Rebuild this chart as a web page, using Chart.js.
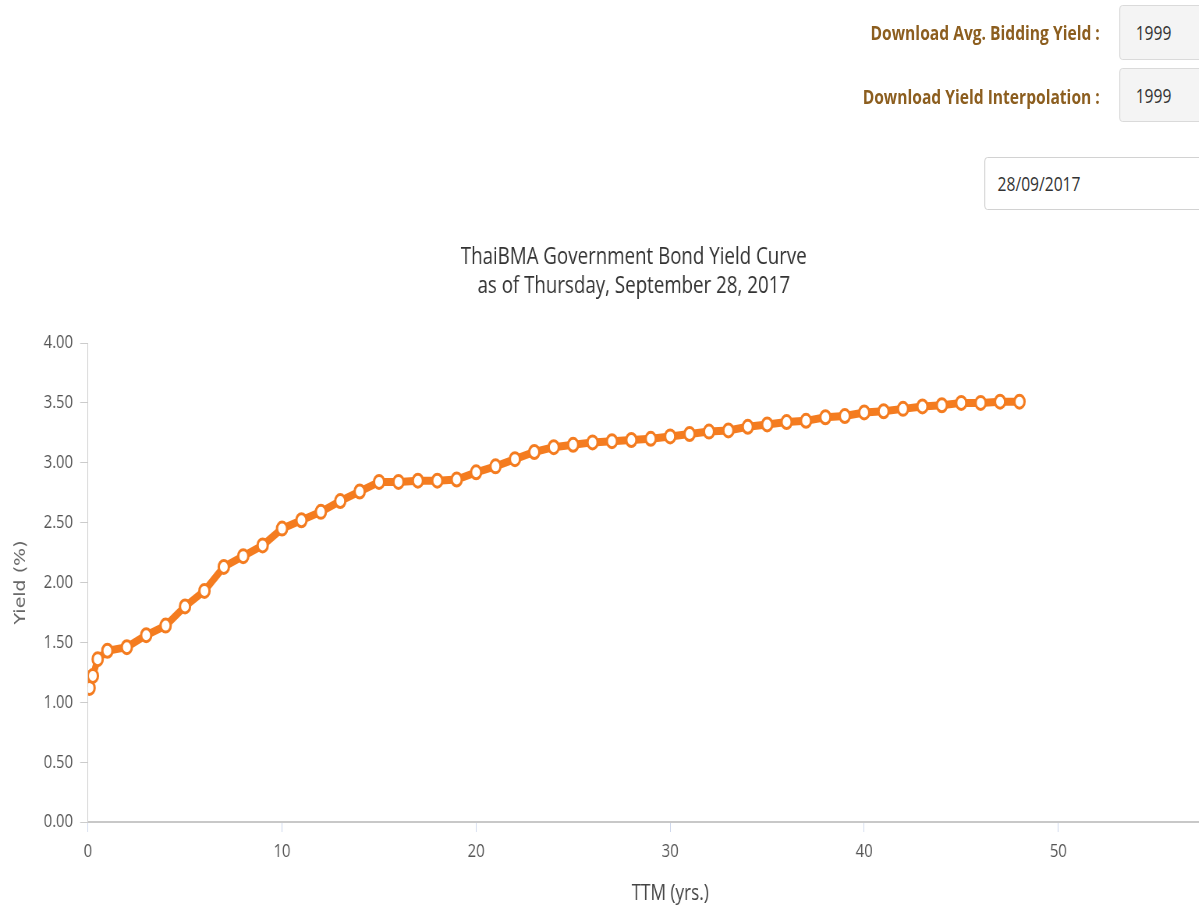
<!DOCTYPE html>
<html>
<head>
<meta charset="utf-8">
<script src="https://cdn.jsdelivr.net/npm/chart.js@4"></script>
<style>
  html, body { margin: 0; padding: 0; background: #fff; }
  body { width: 1199px; height: 906px; overflow: hidden; position: relative; font-family: "Open Sans", sans-serif; }
  /* whole page is drawn narrow, like the original screenshot */
  #page { position: absolute; left: 0; top: 0; width: 1537px; height: 906px; transform: scaleX(0.78); transform-origin: 0 0; }
  .lbl { position: absolute; right: 127px; font-size: 20px; font-weight: bold; line-height: 24px; color: #8c5e1f; white-space: nowrap; }
  .box { position: absolute; box-sizing: border-box; border: 1px solid #d6d6d6; border-radius: 4px; font-size: 20px; color: #333; display: flex; align-items: center; }
  .ro { background: #f4f4f4; left: 1435px; width: 160px; padding-left: 20px; }
  #dateBox { left: 1262px; top: 157px; height: 53px; width: 320px; background: #fff; border-color: #ccc; padding-left: 16px; }
  #wrap { position: absolute; left: 0; top: 220px; width: 1625px; height: 688px; }
</style>
</head>
<body>
<div id="page">
  <div class="lbl" style="top:21px">Download Avg. Bidding Yield :</div>
  <div class="box ro" style="top:5px;height:55px">1999</div>
  <div class="lbl" style="top:85px">Download Yield Interpolation :</div>
  <div class="box ro" style="top:68px;height:54px">1999</div>
  <div class="box" id="dateBox">28/09/2017</div>
  <div id="wrap"><canvas id="curve"></canvas></div>
</div>
<script>
// years to maturity and government bond yields (%)
const maturities = [0.08, 0.25, 0.5, 1, 2, 3, 4, 5, 6, 7, 8, 9, 10, 11, 12, 13, 14, 15, 16, 17, 18, 19, 20,
  21, 22, 23, 24, 25, 26, 27, 28, 29, 30, 31, 32, 33, 34, 35, 36, 37, 38, 39, 40, 41, 42, 43, 44, 45, 46, 47, 48];
const yields = [1.12, 1.22, 1.36, 1.43, 1.46, 1.56, 1.64, 1.80, 1.93, 2.13, 2.22, 2.31, 2.45, 2.52, 2.59, 2.68, 2.76, 2.84, 2.84, 2.85, 2.85, 2.86, 2.92,
  2.97, 3.03, 3.09, 3.13, 3.15, 3.17, 3.18, 3.19, 3.20, 3.22, 3.24, 3.26, 3.27, 3.30, 3.32, 3.34, 3.35, 3.38, 3.39, 3.42, 3.43, 3.45, 3.47, 3.48, 3.50, 3.50, 3.51, 3.51];
const titleLines = ['ThaiBMA Government Bond Yield Curve', 'as of Thursday, September 28, 2017'];

const orange = '#f47c20';
const points = maturities.map((m, i) => ({ x: m, y: yields[i] }));

new Chart(document.getElementById('curve'), {
  type: 'line',
  data: {
    datasets: [{
      label: 'Yield',
      data: points,
      borderColor: orange,
      borderWidth: 8,
      tension: 0,
      pointRadius: 6.5,
      pointBorderWidth: 3,
      pointBackgroundColor: '#fff',
      pointBorderColor: orange
    }]
  },
  options: {
    responsive: true,
    maintainAspectRatio: false,
    animation: false,
    layout: { padding: 0 },
    plugins: {
      legend: { display: false },
      tooltip: { enabled: false },
      title: {
        display: true,
        text: titleLines,
        color: '#333',
        font: { family: 'Open Sans', size: 24, weight: 'normal' },
        padding: { top: 22.6, bottom: 42.8 }
      }
    },
    scales: {
      x: {
        type: 'linear',
        min: 0,
        max: 60,
        afterFit: s => { s.height = 86; },
        ticks: { stepSize: 10, color: '#555', padding: 8.6, font: { family: 'Open Sans', size: 19 } },
        grid: { drawOnChartArea: false, drawTicks: true, tickLength: 10, color: '#ccd6eb' },
        border: { color: '#c8c8c8', width: 2 },
        title: { display: true, text: 'TTM (yrs.)', color: '#444', font: { family: 'Open Sans', size: 22 }, padding: { top: 0, bottom: 1 } }
      },
      y: {
        min: 0,
        max: 4,
        afterFit: s => { s.width = 112.8; },
        ticks: { stepSize: 0.5, color: '#555', padding: 9.2, font: { family: 'Open Sans', size: 19 }, callback: v => v.toFixed(2) },
        grid: { drawOnChartArea: false, drawTicks: true, tickLength: 10, color: '#cccccc' },
        border: { color: '#cccccc', width: 1 },
        title: { display: true, text: 'Yield (%)', color: '#666', font: { family: 'DejaVu Sans', size: 19 }, padding: { top: 16, bottom: 0 } }
      }
    }
  }
});
</script>
</body>
</html>
